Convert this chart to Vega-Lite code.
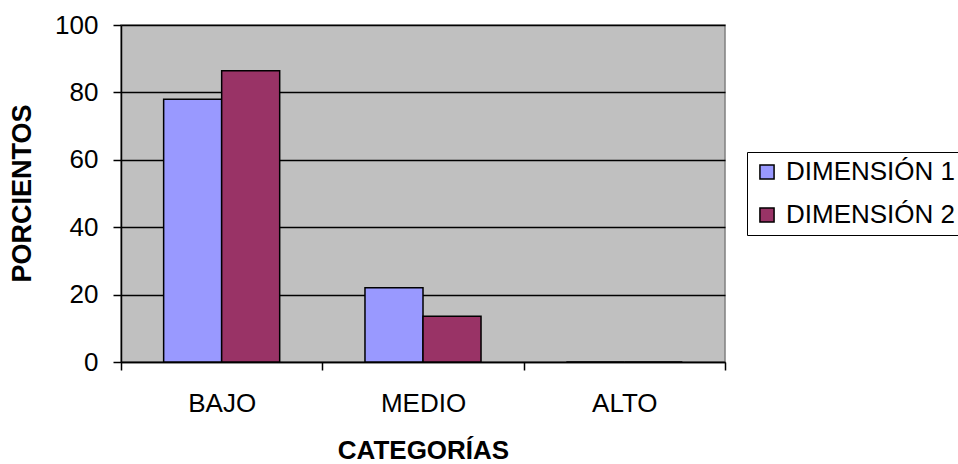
{
  "$schema": "https://vega.github.io/schema/vega-lite/v6.json",
  "width": 604,
  "height": 337,
  "autosize": {"type": "none"},
  "padding": {"left": 121, "top": 25, "right": 233, "bottom": 102},
  "background": "white",
  "data": {
    "values": [
      {"categoria": "BAJO", "serie": "DIMENSIÓN 1", "porcentaje": 78},
      {"categoria": "BAJO", "serie": "DIMENSIÓN 2", "porcentaje": 86.4},
      {"categoria": "MEDIO", "serie": "DIMENSIÓN 1", "porcentaje": 22},
      {"categoria": "MEDIO", "serie": "DIMENSIÓN 2", "porcentaje": 13.6},
      {"categoria": "ALTO", "serie": "DIMENSIÓN 1", "porcentaje": 0},
      {"categoria": "ALTO", "serie": "DIMENSIÓN 2", "porcentaje": 0}
    ]
  },
  "config": {
    "font": "Liberation Sans",
    "view": {"fill": "#C0C0C0", "stroke": "#808080", "strokeWidth": 1.5}
  },
  "mark": {"type": "bar", "stroke": "black", "strokeWidth": 1.5},
  "encoding": {
    "x": {
      "field": "categoria",
      "type": "nominal",
      "sort": ["BAJO", "MEDIO", "ALTO"],
      "scale": {"paddingInner": 0, "paddingOuter": 0},
      "axis": {
        "title": "CATEGORÍAS",
        "titleFontSize": 26,
        "titleFontWeight": "bold",
        "titleColor": "black",
        "titleBaseline": "alphabetic",
        "titleY": 96,
        "labelAngle": 0,
        "labelFontSize": 26,
        "labelColor": "black",
        "labelPadding": 20,
        "tickBand": "extent",
        "tickSize": 8,
        "tickColor": "black",
        "tickWidth": 1.5,
        "domainColor": "black",
        "domainWidth": 1.5,
        "grid": false
      }
    },
    "xOffset": {
      "field": "serie",
      "type": "nominal",
      "scale": {"paddingInner": 0, "paddingOuter": 0.735}
    },
    "y": {
      "field": "porcentaje",
      "type": "quantitative",
      "scale": {"domain": [0, 100], "nice": false},
      "axis": {
        "values": [0, 20, 40, 60, 80, 100],
        "title": "PORCIENTOS",
        "titleFontSize": 27,
        "titleFontWeight": "bold",
        "titleColor": "black",
        "titleAngle": 270,
        "titleBaseline": "middle",
        "titleX": -99,
        "titleY": 168,
        "labelFontSize": 26,
        "labelColor": "black",
        "labelPadding": 15,
        "tickSize": 8,
        "tickColor": "black",
        "tickWidth": 1.5,
        "domainColor": "black",
        "domainWidth": 1.5,
        "grid": true,
        "gridColor": "black",
        "gridWidth": 1.5
      }
    },
    "color": {
      "field": "serie",
      "type": "nominal",
      "scale": {"domain": ["DIMENSIÓN 1", "DIMENSIÓN 2"], "range": ["#9999FF", "#993366"]},
      "legend": {
        "title": null,
        "orient": "none",
        "legendX": 626,
        "legendY": 127,
        "direction": "vertical",
        "fillColor": "white",
        "strokeColor": "black",
        "padding": 7,
        "symbolType": "square",
        "symbolSize": 200,
        "symbolStrokeColor": "black",
        "symbolStrokeWidth": 1.5,
        "symbolOpacity": 1,
        "labelFontSize": 26,
        "labelColor": "black",
        "labelLimit": 400,
        "labelOffset": 6,
        "rowPadding": 17
      }
    }
  }
}
